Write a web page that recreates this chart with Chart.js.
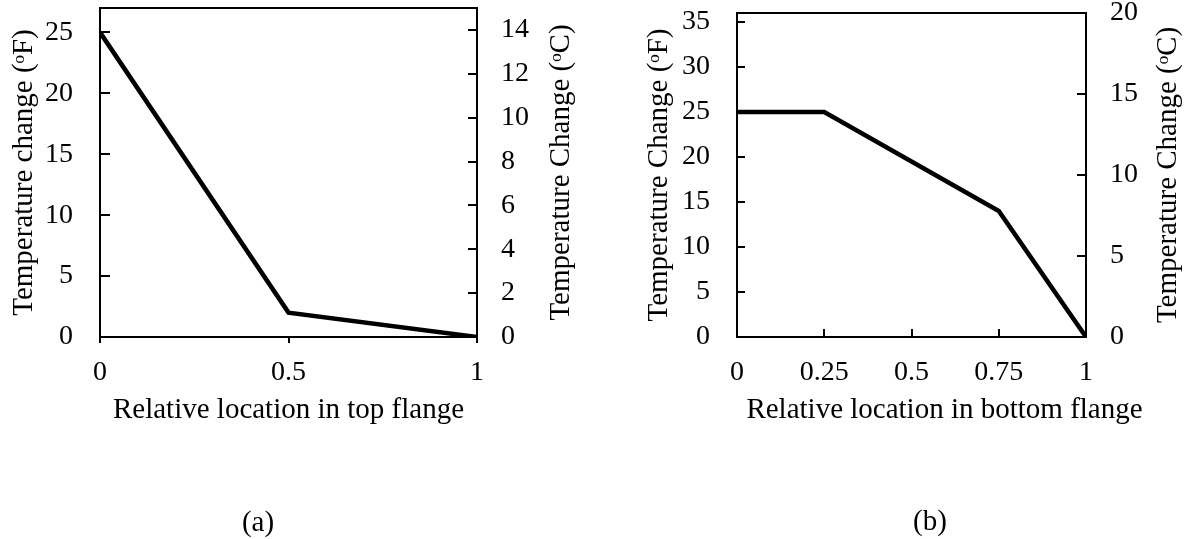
<!DOCTYPE html>
<html>
<head>
<meta charset="utf-8">
<script src="https://cdn.jsdelivr.net/npm/chart.js@4.4.1/dist/chart.umd.min.js"></script>
<style>
html,body{margin:0;padding:0;background:#fff;width:1185px;height:539px;overflow:hidden;}
canvas{position:absolute;top:0;}
#ca{left:0;}
#cb{left:600px;}
.sub{position:absolute;font-family:"Liberation Serif","Times New Roman",serif;font-size:29px;line-height:29px;color:#000;transform:translate(-50%,-50%);white-space:nowrap;}
</style>
</head>
<body>
<canvas id="ca" width="600" height="539" style="width:600px;height:539px"></canvas>
<canvas id="cb" width="585" height="539" style="width:585px;height:539px"></canvas>
<div class="sub" style="left:258px;top:521px">(a)</div>
<div class="sub" style="left:930px;top:520px">(b)</div>
<script>
// ---------- data: (a) top flange ----------
const locationA = [0, 0.5, 1];
const tempChangeFA = [25, 2, 0];
const xTicksA = [0, 0.5, 1];
const leftTicksA = [0, 5, 10, 15, 20, 25];
const rightTicksA = [0, 2, 4, 6, 8, 10, 12, 14];
const leftMaxA = 27;   // deg F
const rightMaxA = 15;  // deg C

// ---------- data: (b) bottom flange ----------
const locationB = [0, 0.25, 0.75, 1];
const tempChangeFB = [25, 25, 14, 0];
const xTicksB = [0, 0.25, 0.5, 0.75, 1];
const leftTicksB = [0, 5, 10, 15, 20, 25, 30, 35];
const rightTicksB = [0, 5, 10, 15, 20];
const leftMaxB = 36;   // deg F
const rightMaxB = 20;  // deg C

const FONT = '"Liberation Serif", "Times New Roman", serif';
Chart.defaults.color = '#000';
Chart.defaults.font.family = FONT;

const framePlugin = {
  id: 'frameTicks',
  afterDatasetsDraw(chart, args, o) {
    const {ctx, chartArea: a, scales} = chart;
    ctx.save();
    ctx.strokeStyle = '#000';
    ctx.lineWidth = 2;
    ctx.beginPath();
    scales.yL.ticks.forEach(t => {
      const y = Math.round(scales.yL.getPixelForValue(t.value));
      ctx.moveTo(a.left, y); ctx.lineTo(a.left + o.tl, y);
    });
    scales.yR.ticks.forEach(t => {
      const y = Math.round(scales.yR.getPixelForValue(t.value));
      ctx.moveTo(a.right, y); ctx.lineTo(a.right - o.tr, y);
    });
    scales.x.ticks.forEach(t => {
      const x = Math.round(scales.x.getPixelForValue(t.value));
      ctx.moveTo(x, a.bottom); ctx.lineTo(x, a.bottom + o.tx);
    });
    ctx.stroke();
    ctx.strokeRect(a.left, a.top, a.right - a.left, a.bottom - a.top);
    ctx.restore();
  },
  afterDraw(chart, args, o) {
    const ctx = chart.ctx;
    const a = chart.chartArea;
    ctx.save();
    ctx.font = '29px ' + FONT;
    ctx.fillStyle = '#000';
    ctx.textAlign = 'center';
    ctx.textBaseline = 'middle';
    if (o.xTitle) {
      const s = chart.scales.x;
      ctx.fillText(o.xTitle, (s.left + s.right) / 2 + o.xTitleDx, o.xTitleY);
    }
    // right-hand axis title, reading bottom to top
    ctx.translate(o.rightTitleX, (a.top + a.bottom) / 2 + o.rightTitleDy);
    ctx.rotate(-Math.PI / 2);
    ctx.fillText(o.rightTitle, 0, 0);
    ctx.restore();
  }
};

function makeChart(id, g) {
  const tickFont = {family: FONT, size: 28};
  const titleFont = {family: FONT, size: 29, lineHeight: 1};
  return new Chart(document.getElementById(id), {
    type: 'line',
    data: {
      datasets: [{
        data: g.xs.map((x, i) => ({x: x, y: g.ys[i]})),
        xAxisID: 'x',
        yAxisID: 'yL',
        borderColor: '#000',
        borderWidth: 4.5,
        pointRadius: 0,
        tension: 0,
        borderJoinStyle: 'miter',
        fill: false
      }]
    },
    options: {
      responsive: false,
      animation: false,
      events: [],
      layout: {padding: {top: g.top, left: 0, right: 0, bottom: g.padBottom}},
      plugins: {
        legend: {display: false},
        tooltip: {enabled: false},
        frameTicks: {
          tl: g.tl, tr: g.tr, tx: g.tx,
          xTitle: g.xTitleCustom, xTitleDx: g.xTitleDx, xTitleY: g.xTitleY,
          rightTitle: g.rightTitle, rightTitleX: g.rightTitleX, rightTitleDy: g.rightTitleDy
        }
      },
      scales: {
        x: {
          type: 'linear', position: 'bottom', min: 0, max: 1, bounds: 'data',
          grid: {display: false, drawTicks: false}, border: {display: false},
          afterBuildTicks: s => { s.ticks = g.xTicks.map(v => ({value: v})); },
          afterFit: s => { s.height = g.xH; s.paddingLeft = 0; s.paddingRight = 0; },
          ticks: {font: tickFont, color: '#000', padding: 19, maxRotation: 0, autoSkip: false, callback: v => String(v)},
          title: {display: !g.xTitleCustom, text: g.xTitle, font: titleFont, color: '#000', padding: {top: g.xTitlePad, bottom: g.xTitlePad}}
        },
        yL: {
          type: 'linear', position: 'left', min: 0, max: g.leftMax, bounds: 'data',
          grid: {display: false, drawTicks: false}, border: {display: false},
          afterBuildTicks: s => { s.ticks = g.leftTicks.map(v => ({value: v})); },
          afterFit: s => { s.width = g.leftW; s.paddingTop = 0; s.paddingBottom = 0; },
          ticks: {font: tickFont, color: '#000', padding: 27, callback: v => String(v)},
          title: {display: true, text: g.leftTitle, font: titleFont, color: '#000', padding: {top: g.leftTitlePad, bottom: g.leftTitlePad}}
        },
        yR: {
          type: 'linear', position: 'right', min: 0, max: g.rightMax, bounds: 'data', display: true,
          grid: {display: false, drawTicks: false}, border: {display: false},
          afterBuildTicks: s => { s.ticks = g.rightTicks.map(v => ({value: v})); },
          afterFit: s => { s.width = g.rightW; s.paddingTop = 0; s.paddingBottom = 0; },
          ticks: {font: tickFont, color: '#000', padding: 24, callback: v => String(v)},
          title: {display: false}
        }
      }
    },
    plugins: [framePlugin]
  });
}

makeChart('ca', {
  xs: locationA, ys: tempChangeFA,
  xTicks: xTicksA, leftTicks: leftTicksA, rightTicks: rightTicksA,
  leftMax: leftMaxA, rightMax: rightMaxA,
  top: 8, padBottom: 102, xH: 100, leftW: 100, rightW: 123,
  tl: 10, tr: 9, tx: 6,
  xTitle: 'Relative location in top flange', xTitlePad: 12.5,
  leftTitle: 'Temperature change (\u1D52F)', leftTitlePad: 9.5,
  rightTitle: 'Temperature Change (\u1D52C)', rightTitleX: 561, rightTitleDy: 0
});

makeChart('cb', {
  xs: locationB, ys: tempChangeFB,
  xTicks: xTicksB, leftTicks: leftTicksB, rightTicks: rightTicksB,
  leftMax: leftMaxB, rightMax: rightMaxB,
  top: 13, padBottom: 102, xH: 100, leftW: 137, rightW: 99,
  tl: 8, tr: 9, tx: -8,
  xTitle: 'Relative location in bottom flange', xTitlePad: 12.5,
  xTitleCustom: 'Relative location in bottom flange', xTitleDx: 33, xTitleY: 410,
  leftTitle: 'Temperature Change (\u1D52F)', leftTitlePad: 45,
  rightTitle: 'Temperature Change (\u1D52C)', rightTitleX: 568, rightTitleDy: 0
});
</script>
</body>
</html>
